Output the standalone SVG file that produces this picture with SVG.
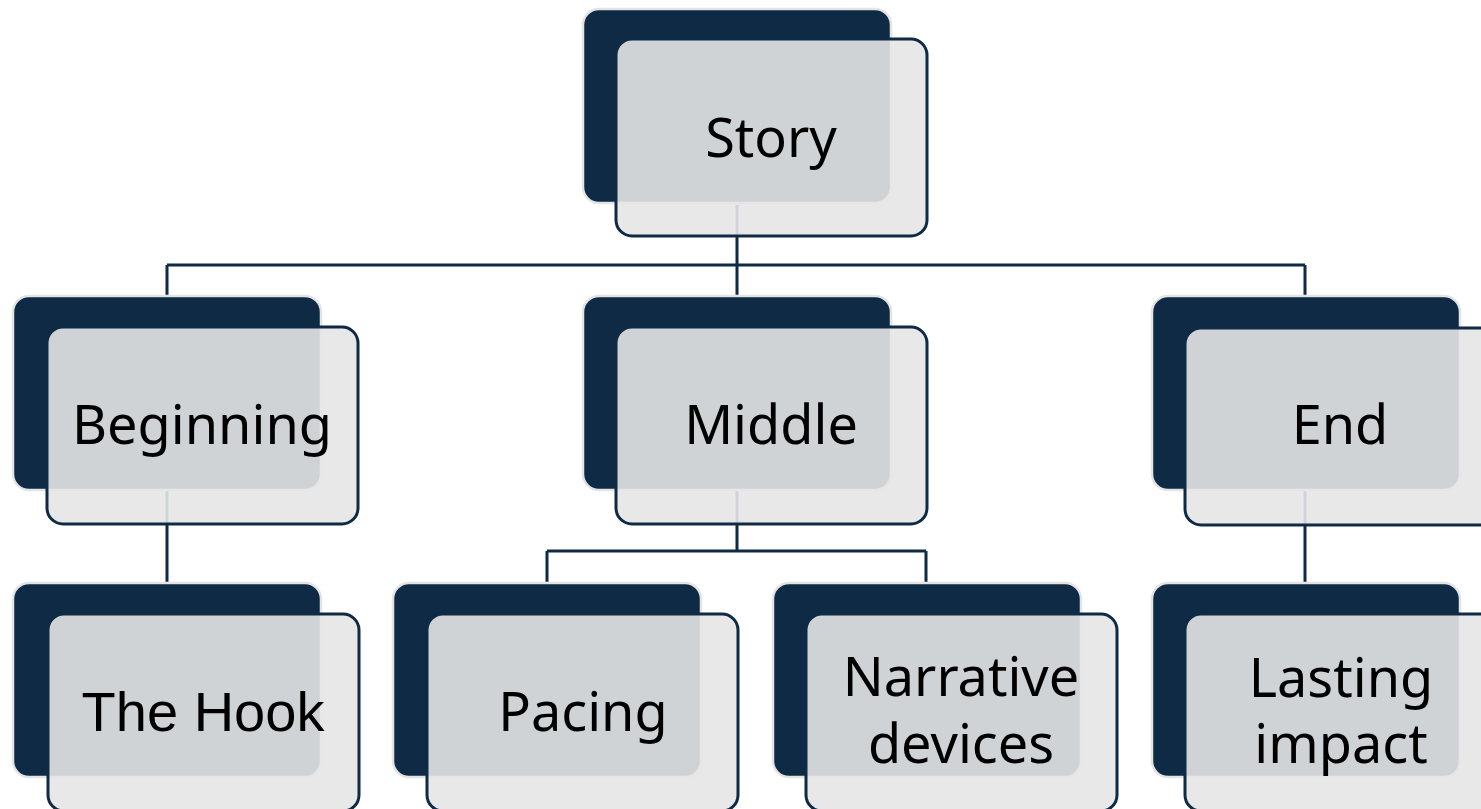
<svg xmlns="http://www.w3.org/2000/svg" width="1481" height="809" viewBox="0 0 1481 809">
  <style>
    .back { fill: #0F2A45; stroke: #E4E4E4; stroke-width: 2.5; }
    .front { fill: #E6E6E6; fill-opacity: 0.9; stroke: #0F2A45; stroke-width: 3; }
    .lbl { font-family: "Noto Sans", "Open Sans", sans-serif; font-size: 54px; fill: #000; text-anchor: middle; }
    .arial { font-family: "Liberation Sans", Arial, sans-serif; font-size: 56px; }
    .conn { fill: none; stroke: #0F2A45; stroke-width: 3; }
  </style>
  <rect width="1481" height="809" fill="#FFFFFF"/>

  <g id="connectors">
    <path class="conn" d="M737 205 V265 M167 265 H1305 M167 265 V298 M737 265 V298 M1305 265 V298"/>
    <path class="conn" d="M167 490 V585"/>
    <path class="conn" d="M737 490 V551 M547 551 H926 M547 551 V585 M926 551 V585"/>
    <path class="conn" d="M1305 490 V585"/>
  </g>

  <g id="story">
    <rect class="back" x="583" y="9" width="308" height="194" rx="16"/>
    <rect class="front" x="616" y="39" width="311" height="197" rx="16"/>
    <text class="lbl" x="771" y="157">Story</text>
  </g>

  <g id="beginning">
    <rect class="back" x="13" y="296" width="308" height="194" rx="16"/>
    <rect class="front" x="47" y="327" width="311" height="197" rx="16"/>
    <text class="lbl" x="202" y="444">Beginning</text>
  </g>

  <g id="middle">
    <rect class="back" x="583" y="296" width="308" height="194" rx="16"/>
    <rect class="front" x="616" y="327" width="311" height="197" rx="16"/>
    <text class="lbl" x="771" y="444">Middle</text>
  </g>

  <g id="end">
    <rect class="back" x="1152" y="296" width="308" height="194" rx="16"/>
    <rect class="front" x="1185" y="328" width="311" height="197" rx="16"/>
    <text class="lbl" x="1340" y="444">End</text>
  </g>

  <g id="the-hook">
    <rect class="back" x="13" y="583" width="308" height="194" rx="16"/>
    <rect class="front" x="48" y="614" width="311" height="197" rx="16"/>
    <text class="lbl arial" x="203" y="731">The Hook</text>
  </g>

  <g id="pacing">
    <rect class="back" x="393" y="583" width="308" height="194" rx="16"/>
    <rect class="front" x="427" y="614" width="311" height="197" rx="16"/>
    <text class="lbl" x="583" y="731">Pacing</text>
  </g>

  <g id="narrative-devices">
    <rect class="back" x="773" y="583" width="308" height="194" rx="16"/>
    <rect class="front" x="806" y="614" width="311" height="197" rx="16"/>
    <text class="lbl" x="961" y="696">Narrative</text>
    <text class="lbl" x="961" y="763">devices</text>
  </g>

  <g id="lasting-impact">
    <rect class="back" x="1152" y="583" width="308" height="194" rx="16"/>
    <rect class="front" x="1185" y="614" width="311" height="197" rx="16"/>
    <text class="lbl" x="1341" y="697">Lasting</text>
    <text class="lbl" x="1341" y="763">impact</text>
  </g>
</svg>
